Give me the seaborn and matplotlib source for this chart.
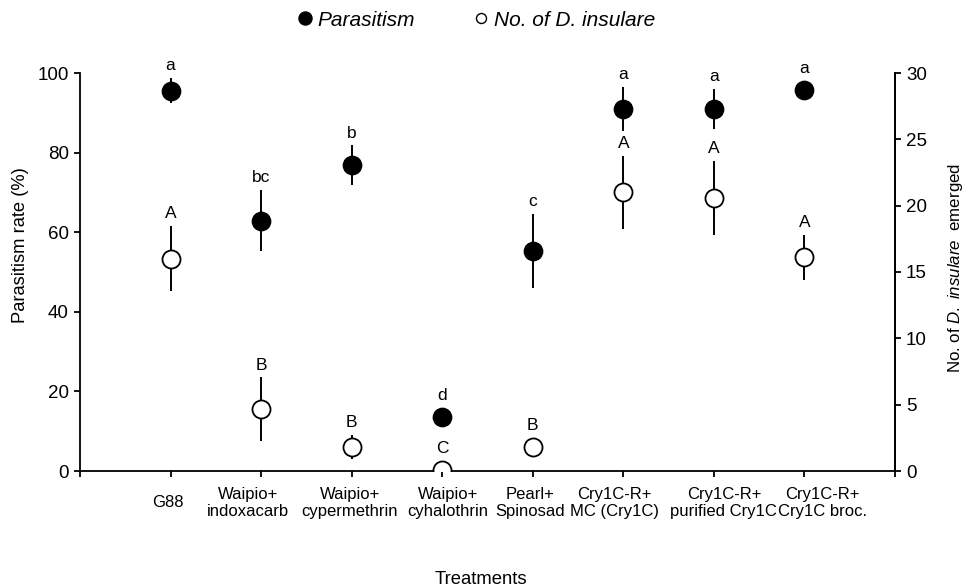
import numpy as np
import seaborn as sns
import matplotlib.pyplot as plt
import matplotlib.transforms as mtransforms

# treatments on the x axis
treatments = ["G88", "Waipio+\nindoxacarb", "Waipio+\ncypermethrin", "Waipio+\ncyhalothrin",
              "Pearl+\nSpinosad", "Cry1C-R+\nMC (Cry1C)", "Cry1C-R+\npurified Cry1C",
              "Cry1C-R+\nCry1C broc."]

# parasitism rate (%) and its error
parasitism = [95.6, 62.9, 76.8, 13.5, 55.3, 91.0, 91.0, 95.7]
parasitism_err = [3.1, 7.7, 5.0, 0.0, 9.2, 5.5, 5.0, 0.0]
letters_par = ["a", "bc", "b", "d", "c", "a", "a", "a"]

# number of D. insulare emerged and its error
insulare = [16.0, 4.65, 1.8, 0.05, 1.8, 21.0, 20.6, 16.1]
insulare_err = [2.45, 2.4, 0.9, 0.0, 0.0, 2.75, 2.8, 1.7]
letters_ins = ["A", "B", "B", "C", "B", "A", "A", "A"]

sns.set_style("ticks")
plt.rcParams["font.family"] = ["Liberation Sans", "DejaVu Sans"]
plt.rcParams["mathtext.fontset"] = "custom"
plt.rcParams["mathtext.rm"] = "Liberation Sans"
plt.rcParams["mathtext.it"] = "Liberation Sans:italic"
plt.rcParams["text.color"] = "black"
plt.rcParams["axes.labelcolor"] = "black"

fig = plt.figure(figsize=(9.69, 5.88), dpi=100)
ax = fig.add_axes([80 / 969, 117 / 588, 815 / 969, 398 / 588])
ax2 = ax.twinx()

x = np.arange(len(treatments))
ms = 13

# filled circles: parasitism (left axis)
ax.errorbar(x, parasitism, yerr=parasitism_err, fmt="none", ecolor="black",
            elinewidth=1.4, capsize=0, zorder=2)
sns.scatterplot(x=x, y=parasitism, ax=ax, color="black", edgecolor="black",
                s=ms ** 2, linewidth=1.2, zorder=3, legend=False)

# open circles: D. insulare (right axis)
ax2.errorbar(x, insulare, yerr=insulare_err, fmt="none", ecolor="black",
             elinewidth=1.4, capsize=0, zorder=2)
sns.scatterplot(x=x, y=insulare, ax=ax2, color="white", edgecolor="black",
                s=ms ** 2, linewidth=1.3, zorder=3, legend=False)

ax.set_xlim(-1, 8)
ax.set_ylim(0, 100)
ax2.set_ylim(0, 30)
ax.set_yticks([0, 20, 40, 60, 80, 100])
ax2.set_yticks([0, 5, 10, 15, 20, 25, 30])
ax.set_xticks(x)
ax.set_xticklabels(treatments, fontsize=12, linespacing=1.2)
ax.set_xticks([-1, 8], minor=True)

for a in (ax, ax2):
    a.spines["top"].set_visible(False)
    for s in a.spines.values():
        s.set_linewidth(1.3)
        s.set_color("black")
    a.tick_params(axis="both", which="both", direction="out", length=4.5, width=1.3,
                  labelsize=13.5, colors="black")
ax.tick_params(axis="x", labelsize=12, pad=18.5)

# labels in the original are nudged sideways so they do not collide
shift_px = [-3, -13, -2, 6, -3, -9, 10, 18]
for lab, dx in zip(ax.get_xticklabels(), shift_px):
    lab.set_verticalalignment("center")
    lab.set_transform(lab.get_transform() +
                      mtransforms.ScaledTranslation(dx / 100, 0, fig.dpi_scale_trans))
ax2.spines["left"].set_visible(False)
ax2.spines["bottom"].set_visible(False)

ax.set_ylabel("Parasitism rate (%)", fontsize=13.2)
ax.yaxis.set_label_coords(-0.063, 0.568)
ax2.set_ylabel(r"No. of $\mathit{D.\ insulare}$  emerged", fontsize=12.2)
ax2.yaxis.set_label_coords(1.063, 0.51)
ax.set_xlabel("Treatments", fontsize=13.3)
ax.xaxis.set_label_coords(0.492, -0.252)


def add_letters(axis, vals, errs, labels):
    radius_pt = ms / 2
    for i, (v, e, lab) in enumerate(zip(vals, errs, labels)):
        y0 = axis.transData.transform((i, v))[1]
        y1 = axis.transData.transform((i, v + e))[1]
        e_pt = (y1 - y0) * 72 / fig.dpi
        off = max(e_pt, radius_pt) + 3.5
        axis.annotate(lab, xy=(i, v), xytext=(0, off), textcoords="offset points",
                      ha="center", va="bottom", fontsize=12.5, color="black")


add_letters(ax, parasitism, parasitism_err, letters_par)
add_letters(ax2, insulare, insulare_err, letters_ins)

h1 = plt.Line2D([], [], marker="o", ls="none", color="black", markersize=9.4)
h2 = plt.Line2D([], [], marker="o", ls="none", markerfacecolor="white",
                markeredgecolor="black", markersize=7.2, markeredgewidth=1.0)
fig.legend([h1, h2], ["Parasitism", "No. of D. insulare"], loc="center",
           bbox_to_anchor=(0.491, 1 - 20 / 588), ncol=2, frameon=False,
           handlelength=0.8, handletextpad=0.2, columnspacing=2.8,
           prop={"style": "italic", "size": 15})

plt.savefig("out.png", dpi=100)
